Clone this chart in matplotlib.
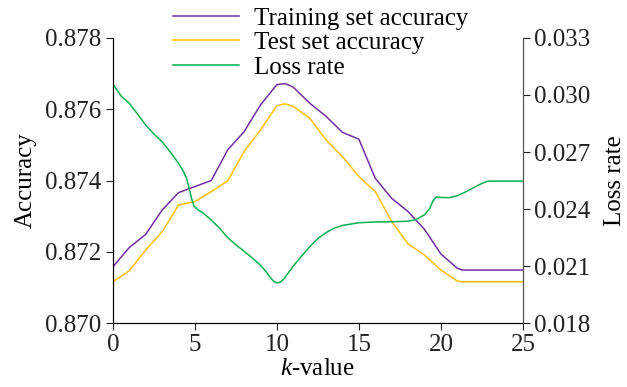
import matplotlib
matplotlib.use("Agg")
import matplotlib.pyplot as plt

plt.rcParams['font.family'] = ['Liberation Serif', 'DejaVu Serif']
plt.rcParams['mathtext.fontset'] = 'custom'
plt.rcParams['mathtext.it'] = 'Liberation Serif:italic'
plt.rcParams['mathtext.rm'] = 'Liberation Serif'

# accuracy curves
k_acc = [0, 1, 2, 3, 4, 5, 6, 7, 8, 9, 10, 10.5, 11, 12, 13, 14, 15, 16, 17, 18, 19, 20, 21, 21.3, 25]
train_acc = [0.87158, 0.87212, 0.87249, 0.87317, 0.87366, 0.87383, 0.87400, 0.87486, 0.87537,
             0.87612, 0.87669, 0.87672, 0.87662, 0.87617, 0.87580, 0.87535, 0.87516, 0.87406,
             0.87350, 0.87313, 0.87263, 0.87194, 0.87154, 0.87149, 0.87149]
test_acc = [0.87116, 0.87147, 0.87205, 0.87256, 0.87331, 0.87341, 0.87369, 0.87399, 0.87481,
            0.87542, 0.87610, 0.87615, 0.87608, 0.87575, 0.87514, 0.87467, 0.87411, 0.87369,
            0.87285, 0.87222, 0.87191, 0.87149, 0.87118, 0.87116, 0.87116]

# loss rate curve
k_loss = [0, 0.5, 1, 1.5, 2, 2.5, 3, 3.5, 4, 4.3, 4.5, 4.65, 4.8, 4.95, 5.2, 5.5, 6, 6.5, 7, 7.5,
          8, 8.5, 9, 9.3, 9.6, 9.8, 10, 10.2, 10.4, 10.7, 11, 11.5, 12, 12.5, 13, 13.5, 14, 15, 16,
          17, 18, 18.5, 19, 19.3, 19.5, 19.7, 20, 20.5, 21, 21.5, 22, 22.5, 22.8, 23, 25]
loss = [0.03058, 0.02995, 0.02956, 0.02900, 0.02842, 0.02795, 0.02754, 0.02700, 0.02641, 0.02598,
        0.02560, 0.02510, 0.02455, 0.02415, 0.02395, 0.02380, 0.02342, 0.02300, 0.02250, 0.02212,
        0.02178, 0.02143, 0.02105, 0.02075, 0.02040, 0.02020, 0.02012, 0.02015, 0.02030, 0.02065,
        0.02100, 0.02152, 0.02202, 0.02245, 0.02276, 0.02300, 0.02314, 0.02328, 0.02332, 0.02333,
        0.02336, 0.02345, 0.02370, 0.02400, 0.02440, 0.02463, 0.02461, 0.02460, 0.02470, 0.02490,
        0.02513, 0.02535, 0.02545, 0.02547, 0.02547]

fig, ax = plt.subplots(figsize=(6.27, 3.87), dpi=100)
fig.subplots_adjust(left=0.180, right=0.834, top=0.902, bottom=0.165)
ax2 = ax.twinx()

l1, = ax.plot(k_acc, train_acc, color='#7030A0', lw=1.1, label='Training set accuracy')
l2, = ax.plot(k_acc, test_acc, color='#FFC000', lw=1.1, label='Test set accuracy')
l3, = ax2.plot(k_loss, loss, color='#00B050', lw=1.1, label='Loss rate')

ax.set_xlim(0, 25)
ax.set_ylim(0.870, 0.878)
ax.set_yticks([0.870, 0.872, 0.874, 0.876, 0.878])
ax.set_xticks([0, 5, 10, 15, 20, 25])
ax2.set_ylim(0.018, 0.033)
ax2.set_yticks([0.018, 0.021, 0.024, 0.027, 0.030, 0.033])
ax.yaxis.set_major_formatter(matplotlib.ticker.FormatStrFormatter('%.3f'))
ax2.yaxis.set_major_formatter(matplotlib.ticker.FormatStrFormatter('%.3f'))

for a in (ax, ax2):
    a.spines['top'].set_visible(False)
    a.tick_params(labelsize=18, direction='out', length=5, colors='#222222', pad=3)
ax2.spines['right'].set_color('#555555')

ax.set_xlabel('$k$-value', fontsize=18, labelpad=1)
ax.set_ylabel('Accuracy', fontsize=18, labelpad=6)
ax2.set_ylabel('Loss rate', fontsize=18, labelpad=10)

fig.legend(handles=[l1, l2, l3], loc='upper left', bbox_to_anchor=(0.272, 0.988),
           frameon=False, fontsize=18, handlelength=2.65, handletextpad=0.6,
           labelspacing=0.08, borderpad=0.1, borderaxespad=0)

fig.savefig('out.png', dpi=100)
